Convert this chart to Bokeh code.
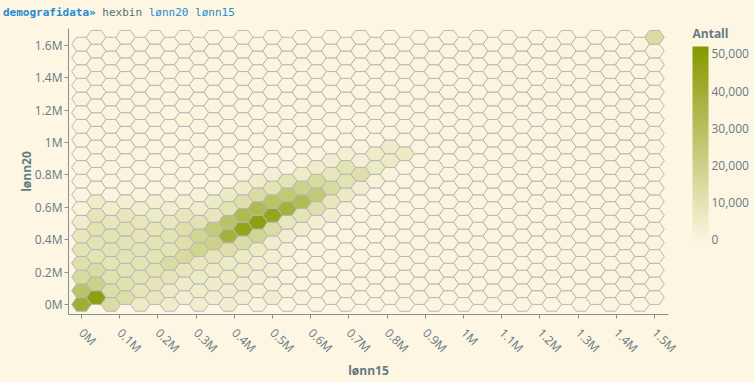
import math
import numpy as np
from bokeh.plotting import figure
from bokeh.layouts import column
from bokeh.models import (LinearColorMapper, ColorBar, FixedTicker, NumeralTickFormatter,
                          ColumnDataSource, Range1d, LinearAxis, Div)
from bokeh.embed import file_html
from bokeh.resources import INLINE

# ---------------- data ----------------
title_parts = ["demografidata»", "hexbin", "lønn20 lønn15"]
x_label = "lønn15"
y_label = "lønn20"
cbar_title = "Antall"

x_ticks = [0, 100000, 200000, 300000, 400000, 500000, 600000, 700000, 800000,
           900000, 1000000, 1100000, 1200000, 1300000, 1400000, 1500000]
x_tick_labels = ["0M", "0.1M", "0.2M", "0.3M", "0.4M", "0.5M", "0.6M", "0.7M", "0.8M",
                 "0.9M", "1M", "1.1M", "1.2M", "1.3M", "1.4M", "1.5M"]
y_ticks = [0, 200000, 400000, 600000, 800000, 1000000, 1200000, 1400000, 1600000]
y_tick_labels = ["0M", "0.2M", "0.4M", "0.6M", "0.8M", "1M", "1.2M", "1.4M", "1.6M"]
cbar_ticks = [0, 10000, 20000, 30000, 40000, 50000]

# hexbin grid (columns of hexagons from lønn15 = 0 to 1.5M, 20 rows each)
n_cols = 40
n_rows = 20
x_max = 1500000
row_step = 84615          # lønn20 distance between hexagon centres in a column

# counts (Antall) per column, from the bottom row upward
col_00 = [40000, 28000, 15000, 12000, 10000, 8000, 5000, 1500]
col_01 = [48000, 20000, 14000, 10000, 10000, 10000, 9000, 5000]
col_02 = [14000, 13000, 11000, 10000, 10000, 10000, 8000, 4000]
col_03 = [13000, 11000, 10000, 10000, 10000, 10000, 8000, 3000]
col_04 = [6000, 9000, 10000, 10000, 10000, 9000, 8000, 4000, 1000]
col_05 = [8000, 9000, 10000, 10000, 10000, 9000, 6000, 3000]
col_06 = [5000, 6000, 9000, 14000, 10000, 10000, 8000, 4000, 1000]
col_07 = [4000, 5000, 8000, 15000, 12000, 12000, 8000, 3000]
col_08 = [4000, 5000, 6000, 8000, 18000, 18000, 10000, 5000, 2000]
col_09 = [4000, 5000, 6000, 9000, 20000, 24000, 8000, 6000, 1000]
col_10 = [4000, 4000, 5000, 6000, 12000, 38000, 28000, 10000, 6000, 1000]
col_11 = [3000, 4000, 5000, 6000, 14000, 46000, 33000, 12000, 5000, 1000]
col_12 = [1000, 2000, 3000, 4000, 6000, 18000, 48000, 33000, 14000, 5000]
col_13 = [4000, 2000, 3000, 3000, 5000, 14000, 45000, 28000, 10000, 3000]
col_14 = [0, 1000, 1000, 1000, 2000, 4000, 8000, 38000, 25000, 10000, 1000]
col_15 = [1000, 0, 1000, 0, 1000, 4000, 10000, 32000, 20000, 5000, 1000]
col_16 = [0, 0, 0, 0, 0, 1000, 3000, 12000, 25000, 15000, 5000]
col_17 = [0, 0, 0, 0, 0, 0, 4000, 8000, 15000, 8000, 4000]
col_18 = [0, 0, 0, 0, 0, 0, 0, 2000, 6000, 10000, 10000, 3000]
col_19 = [0, 0, 0, 0, 0, 0, 0, 1000, 4000, 12000, 3000, 1000]
col_20 = [0, 0, 0, 0, 0, 0, 0, 0, 0, 2000, 6000, 5000]
col_21 = [0, 0, 0, 0, 0, 0, 0, 0, 0, 1000, 6000, 5000]
col_22 = [0, 0, 0, 0, 0, 0, 0, 0, 0, 0, 0, 6000]
col_39 = [0] * 19 + [14000]

columns = {0: col_00, 1: col_01, 2: col_02, 3: col_03, 4: col_04, 5: col_05,
           6: col_06, 7: col_07, 8: col_08, 9: col_09, 10: col_10, 11: col_11,
           12: col_12, 13: col_13, 14: col_14, 15: col_15, 16: col_16,
           17: col_17, 18: col_18, 19: col_19, 20: col_20, 21: col_21,
           22: col_22, 39: col_39}

# ---------------- build hex cells ----------------
col_step = x_max / (n_cols - 1)
hex_size = col_step / 1.5
aspect = row_step / (math.sqrt(3) * hex_size)

qs, rs, vals = [], [], []
for i in range(n_cols):
    counts = columns.get(i, [])
    for row in range(n_rows):
        qs.append(i)
        rs.append(-row - (i + i % 2) // 2)
        vals.append(counts[row] if row < len(counts) else 0)

src = ColumnDataSource(dict(q=qs, r=rs, antall=vals))

# palette: cream -> olive
c0 = np.array([253, 246, 227])
c1 = np.array([133, 153, 0])
palette = []
for t in np.linspace(0, 1, 256):
    c = (c0 + (c1 - c0) * t).round().astype(int)
    palette.append("#%02x%02x%02x" % tuple(c))

mapper = LinearColorMapper(palette=palette, low=-1000, high=52000)

BG = "#fdf6e3"
TXT = "#657b83"
AX = "#889191"
FONT = "Open Sans"
W = 754
TITLE_H = 20
H = 382 - TITLE_H

# ---------------- title line (HTML text) ----------------
title_html = (
    '<div style="padding:6px 0 0 3px; font-family:\'DejaVu Sans Mono\', monospace; '
    'font-size:11px; line-height:13px; white-space:nowrap;">'
    f'<span style="color:#268bd2; font-weight:bold;">{title_parts[0]}</span> '
    f'<span style="color:#586e75;">{title_parts[1]}</span> '
    f'<span style="color:#268bd2;">{title_parts[2]}</span></div>'
)
title_div = Div(text=title_html, width=W, height=TITLE_H,
                styles={"background-color": BG, "margin": "0", "padding": "0"})

# ---------------- figure ----------------
p = figure(width=W, height=H, output_backend="svg", toolbar_location=None,
           x_range=Range1d(-34000, 1536650), y_range=Range1d(-62400, 1704400),
           min_border_left=68, min_border_right=86, min_border_top=8, min_border_bottom=54,
           background_fill_color=BG, border_fill_color=BG, outline_line_color=None)
p.grid.visible = False

p.hex_tile(q="q", r="r", size=hex_size, orientation="flattop", aspect_scale=aspect,
           source=src, fill_color={"field": "antall", "transform": mapper},
           line_color="#b2bab4", line_width=1)

for ax in (p.xaxis[0], p.yaxis[0]):
    ax.axis_line_color = AX
    ax.major_tick_line_color = AX
    ax.major_tick_out = 4
    ax.major_tick_in = 0
    ax.minor_tick_line_color = None
    ax.major_label_text_font = FONT
    ax.major_label_text_font_size = "12px"
    ax.major_label_text_color = TXT
    ax.axis_label_text_font = FONT
    ax.axis_label_text_font_size = "12px"
    ax.axis_label_text_font_style = "bold"
    ax.axis_label_text_color = TXT

p.xaxis.ticker = FixedTicker(ticks=x_ticks)
p.xaxis.major_label_overrides = {t: l for t, l in zip(x_ticks, x_tick_labels)}
p.xaxis.major_label_orientation = -math.pi / 4
p.xaxis.axis_label = x_label
p.xaxis.axis_label_standoff = -3
p.xaxis.major_label_standoff = 12

p.yaxis.ticker = FixedTicker(ticks=y_ticks)
p.yaxis.major_label_overrides = {t: l for t, l in zip(y_ticks, y_tick_labels)}
p.yaxis.axis_label = y_label
p.yaxis.axis_label_standoff = -3
p.yaxis.major_label_standoff = 2

cb = ColorBar(color_mapper=mapper, ticker=FixedTicker(ticks=cbar_ticks),
              formatter=NumeralTickFormatter(format="0,0"),
              width=16, height=197,
              major_label_text_color=TXT, major_label_text_font_size="12px",
              major_label_text_font=FONT, major_tick_line_color=None,
              bar_line_color=None, border_line_color=None, background_fill_alpha=0,
              label_standoff=3, padding=0, margin=0, location=(624, 71))
p.add_layout(cb)

# colour-bar heading, drawn as the single label of an invisible right-hand axis
p.extra_y_ranges = {"cbar_title": Range1d(0, 300)}
title_axis = LinearAxis(y_range_name="cbar_title", ticker=FixedTicker(ticks=[295]),
                        major_label_overrides={295: cbar_title},
                        axis_line_color=None, major_tick_line_color=None,
                        minor_tick_line_color=None, major_tick_out=0, major_tick_in=0,
                        major_label_standoff=24, major_label_text_font=FONT,
                        major_label_text_font_size="12px",
                        major_label_text_font_style="bold",
                        major_label_text_color=TXT)
p.add_layout(title_axis, "right")

layout = column(title_div, p, spacing=0, styles={"background-color": BG})

html = file_html(layout, INLINE)
html = html.replace("<head>", "<head><style>html,body{margin:0;padding:0;background:#fdf6e3;overflow:hidden;}</style>", 1)
open("out.html", "w").write(html)
